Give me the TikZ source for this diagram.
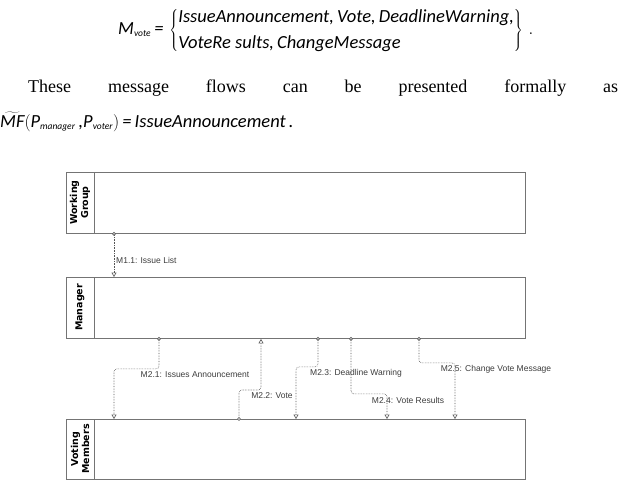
\documentclass[tikz,border=0pt]{standalone}
\usepackage{fontspec}
\setmainfont{Liberation Serif}
\newfontfamily\eqfont{Carlito}
\newfontfamily\lblfont{Liberation Sans}
\newfontfamily\lanefont{DejaVu Sans}
\newcommand\subsz{\fontsize{9.5}{9.5}\selectfont}
\newcommand\bracestrut{\vcenter{\hbox{\rule{0pt}{44pt}}}}
\usetikzlibrary{arrows.meta}
\definecolor{cline}{HTML}{747474}
\definecolor{cmsg}{HTML}{555555}
\definecolor{ctext}{HTML}{3C3C3C}
\tikzset{
  lane/.style={draw=cline, line width=0.9pt, minimum width=459pt, anchor=north west, inner sep=0pt},
  hdr/.style={font=\lanefont\bfseries\fontsize{9.5}{11}\selectfont, align=center, rotate=90, inner sep=0pt},
  msg/.style={draw=cmsg, line width=0.6pt, densely dotted, rounded corners=3pt,
    {Circle[length=3.6pt, fill=white]}-{Triangle[open, length=4.5pt, width=5pt]}, shorten <=-1.8pt},
  lbl/.style={font=\lblfont\fontsize{8.5}{10}\selectfont, text=ctext, inner sep=1pt},
  eq/.style={font=\eqfont\itshape\fontsize{18.5}{26}\selectfont, inner sep=0pt, anchor=west},
}

\begin{document}
\begin{tikzpicture}[x=1pt, y=-1pt]
  \useasboundingbox (0,0) rectangle (621,493);
  \node[eq] (mvote) at (118,30) {$\mbox{M}_{\mbox{\subsz vote}}\mbox{\,=\,}\left\{\bracestrut\smash{\begin{tabular}{@{}l@{}}IssueAnnouncement,\,Vote,\,DeadlineWarning,\\VoteRe\ sults,\,ChangeMessage\end{tabular}}\right\}\,.$};
  \node[font=\fontsize{18}{20}\selectfont, anchor=west, inner sep=0pt] (flows) at (28,88)
    {\makebox[590pt][s]{These message flows can be presented formally as}};
  \node[eq] (mf) at (0,122) {$\widetilde{\mbox{MF}}\Bigl(\mbox{P}_{\mbox{\subsz manager}}\mbox{\,,}\mbox{P}_{\mbox{\subsz voter}}\Bigr)\mbox{\,=\,IssueAnnouncement\,.}$};
  \foreach \nm/\y/\h/\txt in {wg/172/61/{Working\\Group}, mgr/277/61/Manager, vot/419/60/{Voting\\Members}} {
    \node[lane, minimum height=\h pt] (\nm) at (66,\y) {};
    \draw[cline, line width=0.9pt] ([xshift=28pt]\nm.north west) -- ([xshift=28pt]\nm.south west);
    \node[hdr] (\nm-hd) at (80,\y+\h/2) {\txt};
  }
  \draw[msg] ([xshift=48pt]wg.south west) -- ([xshift=48pt]mgr.north west);
  \draw[msg] ([xshift=93pt]mgr.south west) -- ++(0,30) -| ([xshift=48pt]vot.north west);
  \draw[msg] ([xshift=173pt]vot.north west) -- ++(0,-29) -| ([xshift=195pt]mgr.south west);
  \draw[msg] ([xshift=252pt]mgr.south west) -- ++(0,28) -| ([xshift=230pt]vot.north west);
  \draw[msg] ([xshift=285pt]mgr.south west) -- ++(0,55) -| ([xshift=321pt]vot.north west);
  \draw[msg] ([xshift=353pt]mgr.south west) -- ++(0,24) -| ([xshift=389pt]vot.north west);
  \node[lbl, anchor=west] (l11) at (115,260) {M1.1: Issue List};
  \node[lbl] (l21) at (195,375) {M2.1: Issues Announcement};
  \node[lbl] (l22) at (272,396) {M2.2: Vote};
  \node[lbl] (l23) at (356,373) {M2.3: Deadline Warning};
  \node[lbl] (l24) at (408,400) {M2.4: Vote Results};
  \node[lbl] (l25) at (496,369) {M2.5: Change Vote Message};
\end{tikzpicture}
\end{document}
